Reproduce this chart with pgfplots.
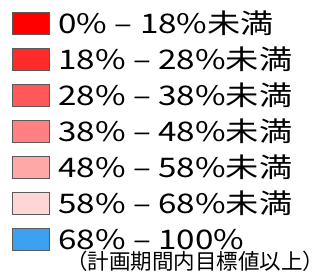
\documentclass[border=0pt]{standalone}
\usepackage{fontspec}
\setmainfont[FakeStretch=1.23]{Noto Sans CJK JP}
\newfontfamily\plainjp{Noto Sans CJK JP}
\usepackage{pgfplots}
\pgfplotsset{compat=1.18}
\definecolor{c1}{RGB}{255,0,0}
\definecolor{c2}{RGB}{255,42,42}
\definecolor{c3}{RGB}{255,88,88}
\definecolor{c4}{RGB}{255,128,128}
\definecolor{c5}{RGB}{255,168,168}
\definecolor{c6}{RGB}{255,214,214}
\definecolor{c7}{RGB}{62,160,240}
\definecolor{bd}{RGB}{90,90,90}
\begin{document}
\begin{tikzpicture}
\begin{axis}[hide axis, scale only axis, width=313pt, height=276pt,
  xmin=0, xmax=1, ymin=0, ymax=1,
  legend style={at={(rel axis cs:0,1)}, anchor=north west, xshift=12pt, yshift=-12pt,
    draw=none, fill=none, inner sep=0pt, outer sep=0pt,
    font=\fontsize{27}{30}\selectfont, row sep=10pt, column sep=9pt,
    nodes={inner sep=0pt, text height=21pt, text depth=5pt}},
  legend cell align=left,
  legend image code/.code={\draw[#1] (0pt,-9.2pt) rectangle (37pt,12.8pt);},
]
\addlegendimage{fill=c1, draw=bd}
\addlegendentry{0\% – 18\%未満}
\addlegendimage{fill=c2, draw=bd}
\addlegendentry{18\% – 28\%未満}
\addlegendimage{fill=c3, draw=bd}
\addlegendentry{28\% – 38\%未満}
\addlegendimage{fill=c4, draw=bd}
\addlegendentry{38\% – 48\%未満}
\addlegendimage{fill=c5, draw=bd}
\addlegendentry{48\% – 58\%未満}
\addlegendimage{fill=c6, draw=bd}
\addlegendentry{58\% – 68\%未満}
\addlegendimage{fill=c7, draw=bd}
\addlegendentry{68\% – 100\%}
\node[anchor=base west, inner sep=0pt, font=\plainjp\fontsize{21.5}{24}\selectfont] at (rel axis cs:0,0) [xshift=66pt, yshift=6.8pt] {（計画期間内目標値以上）};
\end{axis}
\pgfresetboundingbox
\useasboundingbox (current axis.south west) rectangle (current axis.north east);
\end{tikzpicture}
\end{document}
